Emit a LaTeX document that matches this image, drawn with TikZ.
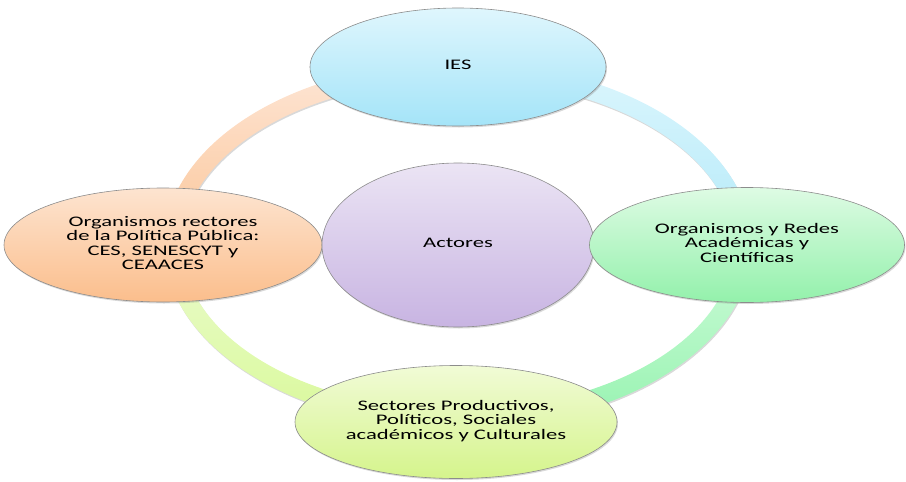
\documentclass[tikz,border=0pt]{standalone}
\usepackage{fontspec}
\setmainfont{Carlito}
\usetikzlibrary{shapes.geometric,shadows,calc}
\definecolor{iesT}{HTML}{DFF6FD}\definecolor{iesB}{HTML}{A4E4F8}
\definecolor{actT}{HTML}{EBE4F4}\definecolor{actB}{HTML}{C8B4E2}
\definecolor{orgT}{HTML}{FDE4D0}\definecolor{orgB}{HTML}{FBBE8C}
\definecolor{redT}{HTML}{DEFBE4}\definecolor{redB}{HTML}{93F1AB}
\definecolor{secT}{HTML}{F1FBD6}\definecolor{secB}{HTML}{D5F48C}
\definecolor{aoT}{HTML}{FDE6D6}\definecolor{aoB}{HTML}{FCC79B}
\definecolor{abT}{HTML}{DCF6FD}\definecolor{abB}{HTML}{B5EAF9}
\definecolor{agT}{HTML}{CDFBD8}\definecolor{agB}{HTML}{96F3B0}
\definecolor{ayT}{HTML}{EAFBCC}\definecolor{ayB}{HTML}{D9F99A}
\newcommand{\widetext}[1]{\scalebox{1.55}[1]{\fontsize{14.6}{14.5}\selectfont\begin{tabular}{@{}c@{}}#1\end{tabular}}}
\tikzset{
  bubble/.style={ellipse, draw=black!45, line width=0.6pt, inner sep=0pt,
    shading=axis, shading angle=0,
    drop shadow={shadow xshift=1pt, shadow yshift=-1.5pt, opacity=0.3}},
  ringpart/.style={shading=axis, shading angle=0,
    drop shadow={shadow xshift=0.8pt, shadow yshift=-1.5pt, opacity=0.3}}
}
\newcommand{\ringarc}[4]{% start angle, end angle, top colour, bottom colour
  \shade[ringpart, top color=#3, bottom color=#4]
    ($(ringc)+({294*cos(#1)},{183*sin(#1)})$)
    arc[start angle=#1, end angle=#2, x radius=294, y radius=183]
    -- ($(ringc)+({276*cos(#2)},{165*sin(#2)})$)
    arc[start angle=#2, end angle=#1, x radius=276, y radius=165] -- cycle;}
\begin{document}
\begin{tikzpicture}[x=1pt,y=1pt]
\useasboundingbox (0,0) rectangle (906,-482);
\coordinate (ringc) at (458,-245);
% ring
\ringarc{95}{178}{aoT}{aoB}
\ringarc{2}{85}{abT}{abB}
\ringarc{275}{358}{agT}{agB}
\ringarc{182}{265}{ayT}{ayB}
% bubbles
\node[bubble, top color=iesT, bottom color=iesB, minimum width=296, minimum height=118]
  (ies) at (458,-67) {\widetext{IES}};
\node[bubble, top color=orgT, bottom color=orgB, minimum width=318, minimum height=114]
  (org) at (163,-245) {\widetext{Organismos rectores\\de la Política Pública:\\CES, SENESCYT y\\CEAACES}};
\node[bubble, top color=actT, bottom color=actB, minimum width=272, minimum height=164]
  (act) at (458,-245) {\widetext{Actores}};
\node[bubble, top color=redT, bottom color=redB, minimum width=315, minimum height=115]
  (red) at (747,-245) {\widetext{Organismos y Redes\\Académicas y\\Científicas}};
\node[bubble, top color=secT, bottom color=secB, minimum width=322, minimum height=113]
  (sec) at (456,-422) {\widetext{Sectores Productivos,\\Políticos, Sociales\\académicos y Culturales}};
\end{tikzpicture}
\end{document}
